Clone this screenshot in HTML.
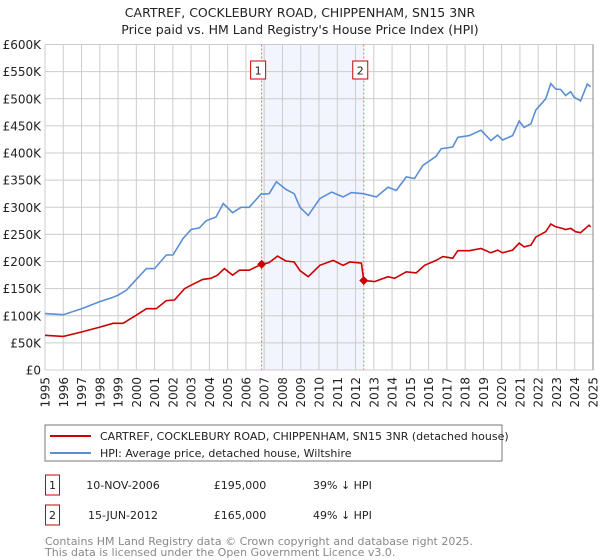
<!DOCTYPE html>
<html><head><meta charset="utf-8"><style>
body{margin:0;background:#fff;font-family:"Liberation Sans","DejaVu Sans",sans-serif;}
#wrap{position:relative;width:600px;height:560px;overflow:hidden;}
svg text{font-family:"DejaVu Sans","Liberation Sans",sans-serif;}
</style></head><body>
<div id="wrap">
<svg id="chart" width="600" height="560" xmlns="http://www.w3.org/2000/svg">
<text x="300" y="17" text-anchor="middle" font-size="12.5" fill="#222">CARTREF, COCKLEBURY ROAD, CHIPPENHAM, SN15 3NR</text>
<text x="300" y="34" text-anchor="middle" font-size="12.5" fill="#222">Price paid vs. HM Land Registry's House Price Index (HPI)</text>
<g id="grid"></g><g id="series"></g><g id="axes"></g>
<rect x="45" y="425" width="457" height="36" fill="#fff" stroke="#777"/>
<line x1="50" y1="436" x2="91" y2="436" stroke="#cc0000" stroke-width="2"/>
<text x="100" y="440" font-size="11" fill="#222">CARTREF, COCKLEBURY ROAD, CHIPPENHAM, SN15 3NR (detached house)</text>
<line x1="50" y1="453" x2="91" y2="453" stroke="#5b8fd4" stroke-width="2"/>
<text x="100" y="457" font-size="11" fill="#222">HPI: Average price, detached house, Wiltshire</text>
<rect x="45.5" y="475" width="14" height="20" fill="#fff" stroke="#cc0000"/>
<text x="52.5" y="489" text-anchor="middle" font-size="11" fill="#222">1</text>
<text x="123" y="489" text-anchor="middle" font-size="11" fill="#222">10-NOV-2006</text>
<text x="240" y="489" text-anchor="middle" font-size="11" fill="#222">£195,000</text>
<text x="313" y="489" font-size="11" fill="#222">39% ↓ HPI</text>
<rect x="45.5" y="505" width="14" height="20" fill="#fff" stroke="#cc0000"/>
<text x="52.5" y="519" text-anchor="middle" font-size="11" fill="#222">2</text>
<text x="123" y="519" text-anchor="middle" font-size="11" fill="#222">15-JUN-2012</text>
<text x="240" y="519" text-anchor="middle" font-size="11" fill="#222">£165,000</text>
<text x="313" y="519" font-size="11" fill="#222">49% ↓ HPI</text>
<text x="45" y="545" font-size="11" fill="#888">Contains HM Land Registry data © Crown copyright and database right 2025.</text>
<text x="45" y="556" font-size="11" fill="#888">This data is licensed under the Open Government Licence v3.0.</text>
</svg>
</div>
<script>
const yTicks=[0,50,100,150,200,250,300,350,400,450,500,550,600];
const yTickLabels=["£0","£50K","£100K","£150K","£200K","£250K","£300K","£350K","£400K","£450K","£500K","£550K","£600K"];
const xYears=[1995,1996,1997,1998,1999,2000,2001,2002,2003,2004,2005,2006,2007,2008,2009,2010,2011,2012,2013,2014,2015,2016,2017,2018,2019,2020,2021,2022,2023,2024,2025];
const hpiYears=[1995,1996,1997,1998,1998.73,1999,1999.45,2000,2000.55,2001,2001.64,2002,2002.55,2003,2003.45,2003.82,2004.36,2004.76,2005.27,2005.73,2006.18,2006.82,2007.27,2007.67,2008.18,2008.64,2008.96,2009.41,2010.05,2010.69,2011.32,2011.78,2012.41,2013.14,2013.78,2014.23,2014.78,2015.23,2015.69,2016.41,2016.69,2017.32,2017.6,2018.23,2018.87,2019.41,2019.78,2020.05,2020.6,2020.96,2021.23,2021.6,2021.87,2022.41,2022.69,2022.96,2023.23,2023.5,2023.78,2023.96,2024.32,2024.69,2024.87];
const hpiValues=[104,102,113,126,134,138,147,167,187,187,212,212,242,259,262,275,282,307,290,300,300,324,325,347,333,325,300,285,316,328,319,327,325,319,337,331,356,353,377,394,408,411,429,432,442,423,433,424,432,459,447,454,479,500,528,518,517,506,513,503,496,527,522];
const propYears=[1995,1996,1997,1998,1998.73,1999.27,2000,2000.55,2001.09,2001.64,2002.09,2002.64,2003.09,2003.64,2004.09,2004.45,2004.82,2005.27,2005.64,2006.18,2006.86,2007.27,2007.73,2008.18,2008.64,2008.96,2009.41,2010.05,2010.78,2011.32,2011.69,2012.32,2012.45,2013.05,2013.78,2014.14,2014.78,2015.32,2015.78,2016.41,2016.78,2017.32,2017.6,2018.23,2018.87,2019.41,2019.78,2020.05,2020.6,2020.96,2021.23,2021.6,2021.87,2022.41,2022.69,2022.96,2023.32,2023.5,2023.78,2024.05,2024.32,2024.78,2024.87];
const propValues=[64,62,70,79,86,86,101,113,113,128,129,150,158,167,169,175,187,175,184,184,195,198,210,201,199,183,172,193,202,193,199,197,165,163,172,169,181,179,193,202,209,206,220,220,224,216,221,216,221,234,227,230,245,255,269,264,261,259,261,255,253,267,264];
const saleYears=[2006.86,2012.45];
const saleValues=[195,165];
const saleLabels=["1","2"];
const X0=45,X1=593,Y0=370,Y1=44.5;
function xs(y){return X0+(y-1995)/30*(X1-X0);}
function ys(v){return Y0-v/600*(Y0-Y1);}
const NS="http://www.w3.org/2000/svg";
function mk(tag,attrs,parent){const e=document.createElementNS(NS,tag);for(const k in attrs)e.setAttribute(k,attrs[k]);parent.appendChild(e);return e;}
const grid=document.getElementById('grid'),series=document.getElementById('series'),axes=document.getElementById('axes');
const band=mk('rect',{x:xs(saleYears[0]),y:Y1,width:xs(saleYears[1])-xs(saleYears[0]),height:Y0-Y1,fill:'#f2f5fd'},grid);


yTicks.forEach((t,i)=>{
  const l=mk('line',{x1:X0,x2:X1,y1:ys(t),y2:ys(t),stroke:'#cccccc','stroke-width':1},grid);
  
  
  const tx=mk('text',{x:X0-4,y:ys(t)+4.5,'text-anchor':'end','font-size':12,fill:'#222'},axes);
  tx.textContent=yTickLabels[i];
  
  
});
xYears.forEach(yr=>{
  const l=mk('line',{x1:xs(yr),x2:xs(yr),y1:Y1,y2:Y0,stroke:'#cccccc','stroke-width':1},grid);
  
  
  const tx=mk('text',{transform:'translate('+(xs(yr)+4.5)+',377) rotate(-90)','text-anchor':'end','font-size':12,fill:'#222'},axes);
  tx.textContent=String(yr);
  
  
});
const rb=mk('line',{x1:X1,x2:X1,y1:Y1,y2:Y0,stroke:'#888','stroke-width':1},axes);


saleYears.forEach((yr,i)=>{
  const l=mk('line',{x1:xs(yr),x2:xs(yr),y1:Y1,y2:Y0,stroke:'#ff6666','stroke-width':1,'stroke-dasharray':'2,2'},grid);
  
  
  const r=mk('rect',{x:xs(yr)-11,y:61,width:15,height:18,fill:'#fff',stroke:'#cc0000'},axes);
  
  
  const t=mk('text',{x:xs(yr)-3.5,y:74.5,'text-anchor':'middle','font-size':11,fill:'#222'},axes);
  t.textContent=saleLabels[i];
});
function path(xa,va){return xa.map((y,i)=>(i?'L':'M')+xs(y).toFixed(1)+','+ys(va[i]).toFixed(1)).join('');}
const hp=mk('path',{d:path(hpiYears,hpiValues),fill:'none',stroke:'#5b8fd4','stroke-width':1.6},series);


const pp=mk('path',{d:path(propYears,propValues),fill:'none',stroke:'#cc0000','stroke-width':1.6},series);


saleYears.forEach((yr,i)=>{
  const cx=xs(yr),cy=ys(saleValues[i]);
  const c=mk('path',{d:'M'+cx+','+(cy-4.5)+'L'+(cx+4.5)+','+cy+'L'+cx+','+(cy+4.5)+'L'+(cx-4.5)+','+cy+'Z',fill:'#cc0000'},series);
  
  
});
</script>
</body></html>
